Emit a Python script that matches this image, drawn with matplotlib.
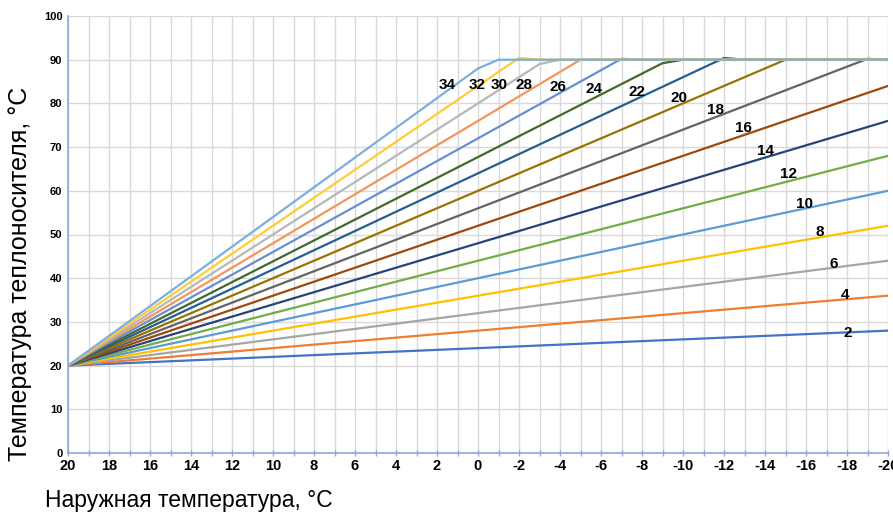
import matplotlib
matplotlib.use("Agg")
import matplotlib.pyplot as plt
from matplotlib.ticker import MultipleLocator

# heating curve number -> flow temperature vs outdoor temperature
curve_numbers = [2, 4, 6, 8, 10, 12, 14, 16, 18, 20, 22, 24, 26, 28, 30, 32, 34]
curve_outdoor = [
    [20, -20],
    [20, -20],
    [20, -20],
    [20, -20],
    [20, -20],
    [20, -20],
    [20, -20],
    [20, -20],
    [20, -18, -19, -20],
    [20, -15, -20],
    [20, -11, -12, -13, -20],
    [20, -9, -10, -20],
    [20, -6, -7, -8, -20],
    [20, -5, -20],
    [20, -3, -4, -20],
    [20, -1, -2, -3, -20],
    [20, 0, -1, -20],
]
curve_flow = [
    [20, 28],
    [20, 36],
    [20, 44],
    [20, 52],
    [20, 60],
    [20, 68],
    [20, 76],
    [20, 84],
    [20, 88.4, 90.2, 90],
    [20, 90, 90],
    [20, 88.2, 90.4, 90, 90],
    [20, 89.2, 90, 90],
    [20, 87.6, 90.2, 90, 90],
    [20, 90, 90],
    [20, 89, 90, 90],
    [20, 87.2, 90.4, 90, 90],
    [20, 88, 90, 90],
]
x_ticks = list(range(20, -21, -2))
y_ticks = list(range(0, 101, 10))

# styling / layout
colors = ["#4472C4", "#ED7D31", "#A5A5A5", "#FFC000", "#5B9BD5", "#70AD47",
          "#264478", "#9E480E", "#636363", "#997300", "#255E91", "#43682B",
          "#698ED0", "#F1975A", "#B7B7B7", "#FFCD33", "#7CAFDD"]
label_xy = [(-18.06, 27.5), (-17.9, 36.2), (-17.33, 43.2), (-16.68, 50.6),
            (-15.95, 57.0), (-15.14, 63.8), (-14.03, 69.2), (-12.94, 74.4),
            (-11.6, 78.5), (-9.79, 81.3), (-7.74, 82.5), (-5.67, 83.2),
            (-3.89, 83.8), (-2.24, 84.2), (-1.04, 84.2), (0.06, 84.2),
            (1.51, 84.1)]
axis_blue = "#8EAADB"
grid_gray = "#D9D9D9"

plt.rcParams["font.family"] = ["Liberation Sans", "DejaVu Sans"]

fig = plt.figure(figsize=(8.93, 5.13), dpi=100)
ax = fig.add_axes([68 / 893, 60 / 513, 820 / 893, 437 / 513])

for num, xs, ys, col in zip(curve_numbers, curve_outdoor, curve_flow, colors):
    ax.plot(xs, ys, color=col, lw=1.6, solid_capstyle="round", zorder=3)

for num, (lx, ly) in zip(curve_numbers, label_xy):
    ax.text(lx, ly, str(num), ha="center", va="center", fontsize=11,
            fontweight="bold", color="black", zorder=4)

ax.set_xlim(20, -20)
ax.set_ylim(0, 100)
ax.set_xticks(x_ticks)
ax.set_xticklabels([str(v) for v in x_ticks])
ax.xaxis.set_minor_locator(MultipleLocator(1))
ax.set_yticks(y_ticks)

ax.grid(True, which="both", axis="x", color=grid_gray, lw=1.0, zorder=0)
ax.grid(True, which="major", axis="y", color=grid_gray, lw=1.0, zorder=0)
ax.set_axisbelow(True)

for side in ("top", "right"):
    ax.spines[side].set_visible(False)
for side in ("left", "bottom"):
    ax.spines[side].set_color(axis_blue)
    ax.spines[side].set_linewidth(1.2)

ax.tick_params(axis="x", which="both", direction="inout", length=5,
               color=axis_blue, width=1.0, pad=2)
ax.tick_params(axis="x", which="major", labelsize=10.5)
for lbl in ax.get_xticklabels():
    lbl.set_fontweight("bold")
ax.tick_params(axis="y", length=0, pad=4, labelsize=8)
for lbl in ax.get_yticklabels():
    lbl.set_fontweight("bold")

fig.text(45 / 893, 6 / 513, "Наружная температура, °C", fontsize=16.5,
         ha="left", va="baseline")
fig.text(20 / 893, 1 - 274 / 513, "Температура теплоносителя, °C", fontsize=18,
         rotation=90, ha="center", va="center")

fig.savefig("out.png", dpi=100)
